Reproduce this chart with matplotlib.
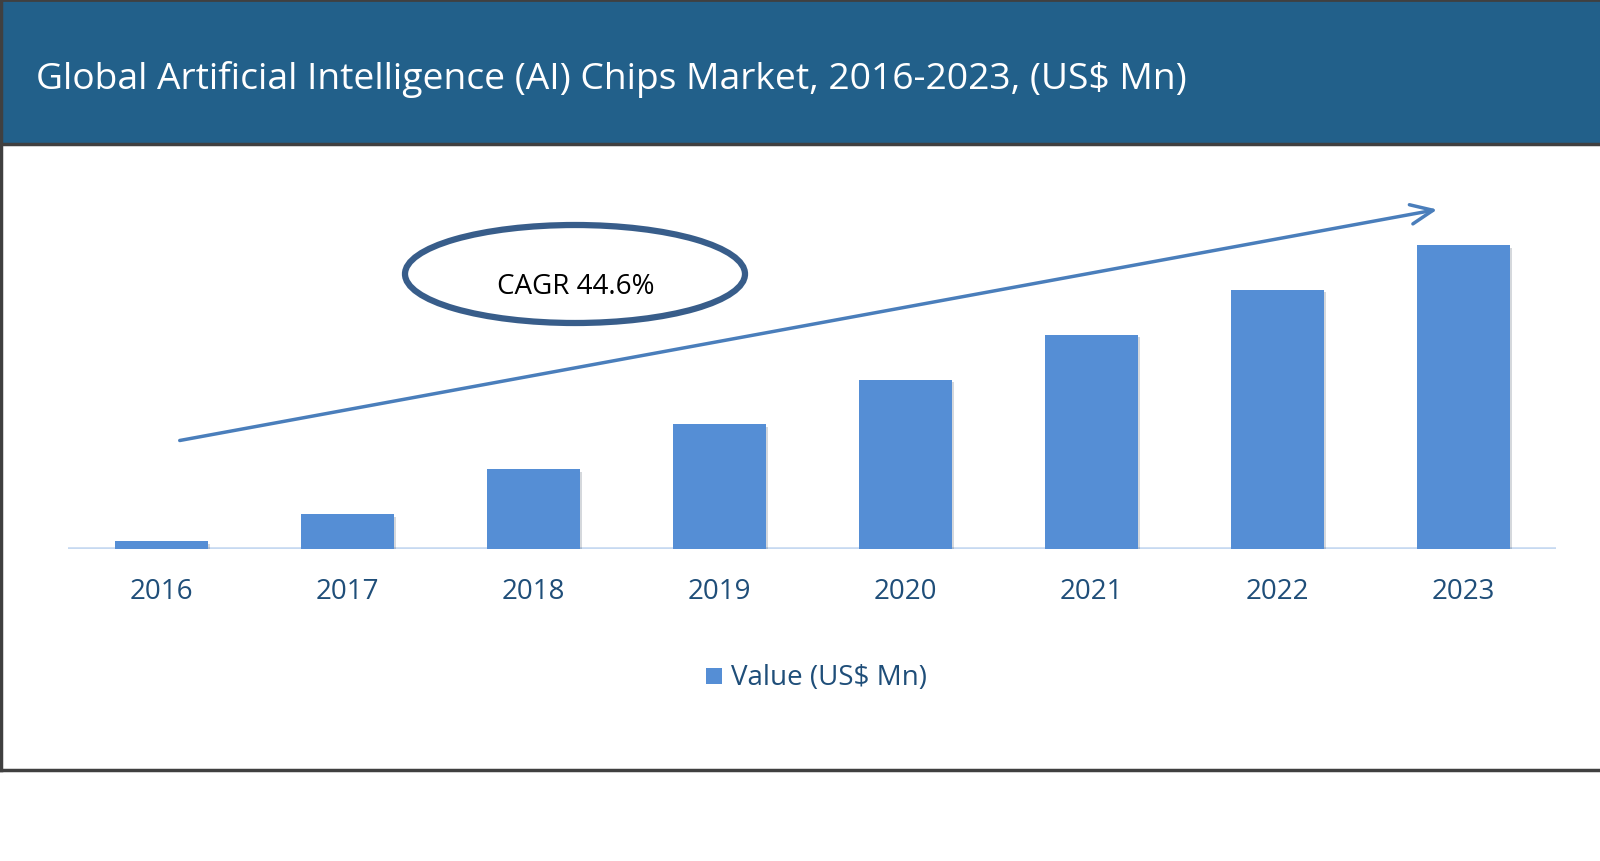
import matplotlib
matplotlib.use('Agg')
import matplotlib.pyplot as plt
import matplotlib.patheffects as pe
from matplotlib.patches import Rectangle, Ellipse

# data (y axis hidden in the original)
years = ['2016', '2017', '2018', '2019', '2020', '2021', '2022', '2023']
values = [270, 1140, 2620, 4100, 5570, 7050, 8530, 10000]

title = 'Global Artificial Intelligence (AI) Chips Market, 2016-2023, (US$ Mn)'
cagr_text = 'CAGR 44.6%'
legend_text = 'Value (US$ Mn)'

BAR_COL = '#558ED5'
HEADER_COL = '#22608A'
TEXT_BLUE = '#1F4E79'

plt.rcParams['font.family'] = ['Open Sans', 'DejaVu Sans']

W, H = 1600, 862
fig = plt.figure(figsize=(W / 100, H / 100), dpi=100)

# background layer in pixel coords
bg = fig.add_axes([0, 0, 1, 1], zorder=0)
bg.set_xlim(0, W)
bg.set_ylim(H, 0)
bg.axis('off')

bg.add_patch(Rectangle((0, 0), W, 145, facecolor=HEADER_COL, edgecolor='none'))
bg.plot([0, W], [145, 145], color='#404040', lw=2.5)
bg.plot([1, 1], [0, 771], color='#404040', lw=2.5)
bg.plot([0, W], [771, 771], color='#404040', lw=2.5)
bg.plot([0, W], [1, 1], color='#404040', lw=2)
bg.text(36, 79, title, color='white', fontsize=26.8, va='center', ha='left')

# CAGR ellipse
bg.add_patch(Ellipse((575, 275), 340, 98, facecolor='none', edgecolor='#385D8A', lw=4.5))
bg.text(576, 287, cagr_text, fontsize=20, ha='center', va='center', color='black')

# trend arrow
bg.annotate('', xy=(1440, 210), xytext=(177, 442),
            arrowprops=dict(arrowstyle='->,head_length=1.6,head_width=0.7',
                            color='#4A7EBB', lw=2.5))

# legend
bg.add_patch(Rectangle((706, 669), 16, 16, facecolor=BAR_COL, edgecolor='none'))
bg.text(731, 678, legend_text, fontsize=20, color=TEXT_BLUE, va='center', ha='left')

# bar chart axes: baseline at y=550 px, x 68..1556 px
px_per_val = 304.1 / 10000
x0, x1 = 68, 1556
y_base, y_top = 550, 150
ax = fig.add_axes([x0 / W, 1 - y_base / H, (x1 - x0) / W, (y_base - y_top) / H], zorder=1)
ax.patch.set_alpha(0)
bars = ax.bar(range(len(years)), values, width=0.5, color=BAR_COL, zorder=2)
for b in bars:
    b.set_path_effects([pe.SimplePatchShadow(offset=(2, -2), alpha=0.18), pe.Normal()])
ax.axhline(0, color='#C6D9F1', lw=2.6, zorder=1)
ax.set_xlim(-0.5, len(years) - 0.5)
ax.set_ylim(0, (y_base - y_top) / px_per_val)
ax.set_xticks(range(len(years)))
ax.set_xticklabels(years, fontsize=20, color=TEXT_BLUE)
ax.tick_params(axis='x', length=0, pad=20)
ax.set_yticks([])
for s in ax.spines.values():
    s.set_visible(False)

fig.savefig('out.png', dpi=100)
